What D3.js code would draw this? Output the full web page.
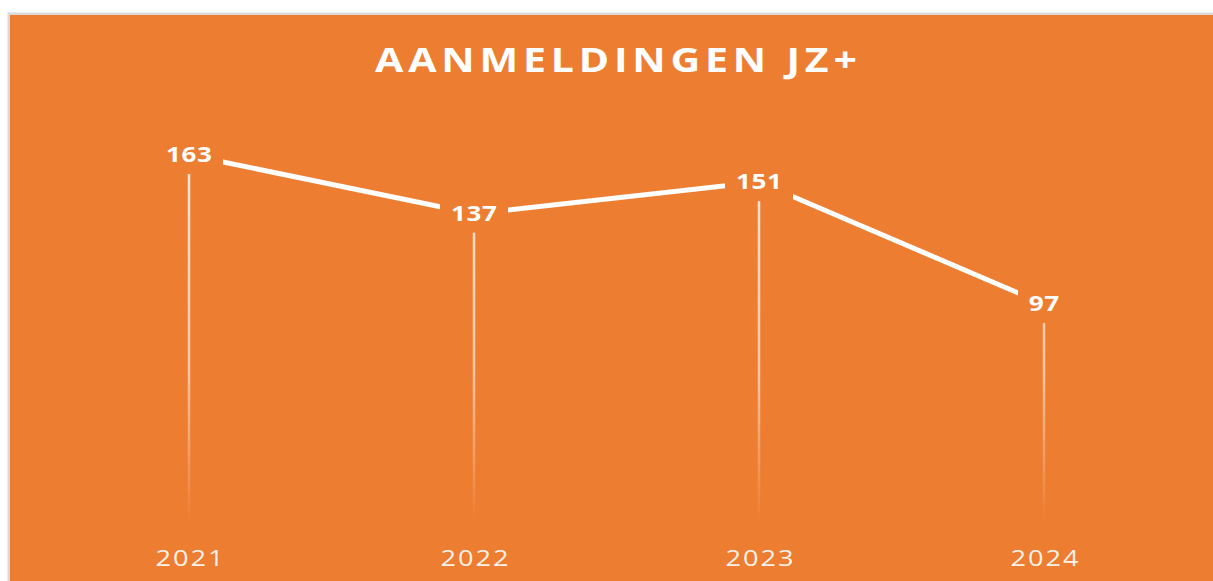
<!DOCTYPE html>
<html>
<head>
<meta charset="utf-8">
<script src="https://cdn.jsdelivr.net/npm/d3@7"></script>
<style>
  html, body { margin: 0; padding: 0; background: #fff; }
  svg { display: block; }
</style>
</head>
<body>
<svg id="chart" width="1213" height="581"></svg>
<script>
var years = ["2021", "2022", "2023", "2024"];
var values = [163, 137, 151, 97];
var title = "AANMELDINGEN JZ+";

var svg = d3.select("#chart");
var W = 1213, H = 581;
var orange = "#ED7D31";
var font = "'Open Sans', sans-serif";

// the reference text is wide: stretch it horizontally to a target width
// (text must sit at x = 0 with text-anchor middle)
var stretch = function(sel, target) {
    sel.each(function() {
        var t = d3.select(this);
        var sp = parseFloat(t.style("letter-spacing")) || 0;
        var w = this.getComputedTextLength() - sp;
        t.attr("dx", sp / 2)
            .attr("transform", "scale(" + (target / w) + ",1)");
    });
};

// frame
svg.append("rect").attr("x", 7.5).attr("y", 12.5).attr("width", W).attr("height", H)
    .attr("fill", "#d9d9d9");
svg.append("rect").attr("x", 10).attr("y", 15).attr("width", W).attr("height", H)
    .attr("fill", orange);

var x = d3.scalePoint()
    .domain(years)
    .range([189, 1044]);

var y = d3.scaleLinear()
    .domain([0, 163])
    .range([523, 155]);

var defs = svg.append("defs");
var grad = defs.append("linearGradient")
    .attr("id", "drop")
    .attr("gradientUnits", "userSpaceOnUse")
    .attr("x1", 0).attr("x2", 0)
    .attr("y1", 150).attr("y2", 522);
grad.append("stop").attr("offset", "0%").attr("stop-color", "#fff").attr("stop-opacity", 0.85);
grad.append("stop").attr("offset", "60%").attr("stop-color", "#fff").attr("stop-opacity", 0.55);
grad.append("stop").attr("offset", "100%").attr("stop-color", "#fff").attr("stop-opacity", 0);

var data = years.map(function(d, i) { return {year: d, value: values[i]}; });

// drop lines
svg.selectAll(".drop")
    .data(data)
    .enter().append("line")
    .attr("class", "drop")
    .attr("x1", function(d) { return x(d.year); })
    .attr("x2", function(d) { return x(d.year); })
    .attr("y1", function(d) { return y(d.value); })
    .attr("y2", y(0))
    .attr("stroke", "url(#drop)")
    .attr("stroke-width", 2.5);

// main line
var line = d3.line()
    .x(function(d) { return x(d.year); })
    .y(function(d) { return y(d.value); });

svg.append("path")
    .datum(data)
    .attr("d", line)
    .attr("fill", "none")
    .attr("stroke", "#fff")
    .attr("stroke-width", 5);

// data labels with orange backing
var lab = svg.selectAll(".lab")
    .data(data)
    .enter().append("g")
    .attr("class", "lab")
    .attr("transform", function(d) { return "translate(" + x(d.year) + "," + y(d.value) + ")"; });

lab.append("rect")
    .attr("x", function(d) { return -String(d.value).length * 8 - 10; })
    .attr("width", function(d) { return String(d.value).length * 16 + 20; })
    .attr("y", -17)
    .attr("height", 36)
    .attr("fill", orange);

lab.append("text")
    .attr("text-anchor", "middle")
    .attr("dy", "0.36em")
    .attr("fill", "#fff")
    .style("font-family", font)
    .style("font-weight", "bold")
    .style("font-size", "20.5px")
    .style("letter-spacing", "0.5px")
    .text(function(d) { return d.value; })
    .each(function(d) {
        stretch(d3.select(this), String(d.value).length * 15.3);
    });

// x axis labels
var xAxis = d3.axisBottom(x).tickSize(0).tickPadding(0);
var gx = svg.append("g")
    .attr("transform", "translate(0,551)")
    .call(xAxis);
gx.select(".domain").remove();
gx.selectAll("text")
    .attr("fill", "#fff")
    .attr("fill-opacity", 0.92)
    .style("font-family", font)
    .style("font-size", "21px")
    .style("letter-spacing", "1.5px")
    .call(stretch, 68);

// title
svg.append("g")
    .attr("transform", "translate(616,72)")
    .append("text")
    .attr("text-anchor", "middle")
    .attr("fill", "#fff")
    .style("font-family", font)
    .style("font-weight", "bold")
    .style("font-size", "34px")
    .style("letter-spacing", "4px")
    .text(title)
    .call(stretch, 482);
</script>
</body>
</html>
